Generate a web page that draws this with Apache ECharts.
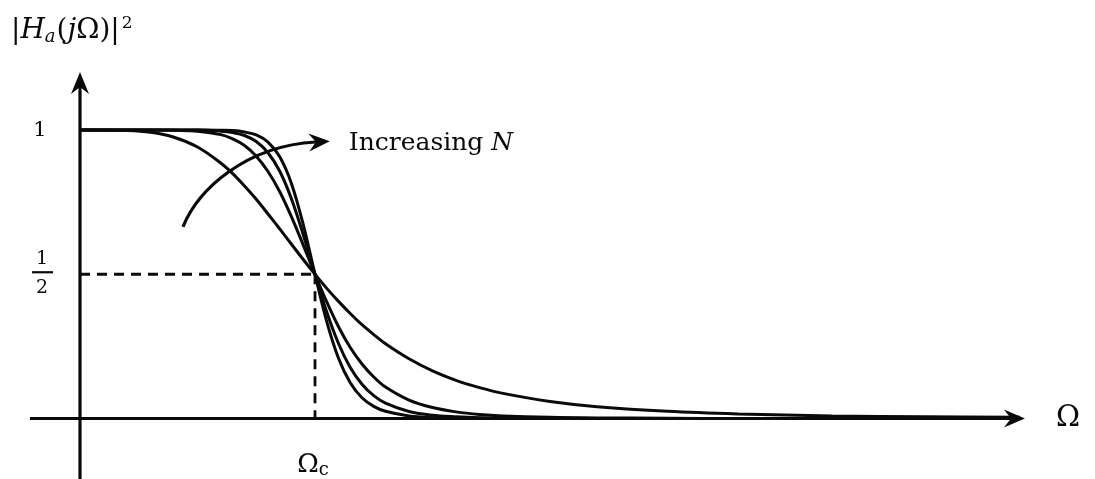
<!DOCTYPE html>
<html>
<head>
<meta charset="utf-8">
<script src="https://cdn.jsdelivr.net/npm/echarts@6/dist/echarts.min.js"></script>
<style>
  html, body { margin: 0; padding: 0; background: #fff; }
  #chart { width: 1095px; height: 479px; }
</style>
</head>
<body>
<div id="chart"></div>
<script>
// Normalised frequency Ω / Ωc at which each response is sampled
const omega = [0, 0.2, 0.3, 0.4, 0.5, 0.6, 0.65, 0.7, 0.75, 0.8, 0.85, 0.9, 0.95,
  1.0, 1.05, 1.1, 1.15, 1.2, 1.25, 1.3, 1.4, 1.5, 1.6, 1.7, 1.8, 2.0, 2.2, 2.5, 2.8, 3.2, 3.6, 4.0];

// |Ha(jΩ)|² for filters of increasing order (lowest order first)
const orderA = [1, 0.998, 0.992, 0.975, 0.941, 0.885, 0.849, 0.806, 0.760, 0.709, 0.657, 0.604, 0.551,
  0.5, 0.451, 0.406, 0.364, 0.325, 0.291, 0.259, 0.207, 0.165, 0.132, 0.107, 0.087, 0.059, 0.041, 0.025, 0.016, 0.009, 0.006, 0.004];
const orderB = [1, 1, 1, 0.999, 0.996, 0.984, 0.969, 0.946, 0.909, 0.856, 0.786, 0.699, 0.601,
  0.5, 0.404, 0.318, 0.246, 0.189, 0.144, 0.109, 0.064, 0.038, 0.023, 0.014, 0.009, 0.004, 0.002, 0.001, 0, 0, 0, 0];
const orderC = [1, 1, 1, 1, 1, 0.996, 0.991, 0.981, 0.960, 0.921, 0.857, 0.761, 0.637,
  0.5, 0.369, 0.260, 0.177, 0.119, 0.079, 0.053, 0.024, 0.011, 0.006, 0.003, 0.002, 0.001, 0, 0, 0, 0, 0, 0];
const orderD = [1, 1, 1, 1, 1, 0.999, 0.998, 0.993, 0.983, 0.958, 0.907, 0.814, 0.672,
  0.5, 0.336, 0.209, 0.124, 0.072, 0.042, 0.025, 0.009, 0.003, 0.001, 0.001, 0, 0, 0, 0, 0, 0, 0, 0];

// Tick marks and labels
const cutoff = 1;            // Ωc
const halfPower = 0.5;       // 1/2
const unitGain = 1;          // 1
const xAxisSpan = [-0.213, 4.021];
const yAxisSpan = [-0.21, 1.201];
const annotationText = 'Increasing ';
const annotationVar = 'N';
// Curved "increasing order" arrow (cubic Bézier, data units)
const sweepArrow = [[0.438, 0.664], [0.502, 0.792], [0.702, 0.945], [1.063, 0.961]];

const INK = '#0a0a0a';
const SERIF = '"DejaVu Serif", "Liberation Serif", serif';

function zip(xs, ys) { return xs.map((x, i) => [x, ys[i]]); }

function curve(values) {
  return {
    type: 'line',
    data: zip(omega, values),
    smooth: 0.35,
    symbol: 'none',
    clip: false,
    lineStyle: { color: INK, width: 3 },
    z: 3
  };
}

function renderDecor(params, api) {
  const c = (x, y) => api.coord([x, y]);
  const kids = [];

  function seg(p, q, extra) {
    kids.push({
      type: 'line',
      shape: { x1: p[0], y1: p[1], x2: q[0], y2: q[1] },
      style: Object.assign({ stroke: INK, lineWidth: 3.2, lineCap: 'butt' }, extra || {})
    });
  }
  function head(tip, angle, len, half, notch) {
    const ca = Math.cos(angle), sa = Math.sin(angle);
    const pts = [[0, 0], [-len, -half], [-len + notch, 0], [-len, half]].map(([x, y]) =>
      [tip[0] + x * ca - y * sa, tip[1] + x * sa + y * ca]);
    kids.push({ type: 'polygon', shape: { points: pts }, style: { fill: INK } });
  }
  function text(x, y, str, style) {
    kids.push({
      type: 'text', x: x, y: y,
      style: Object.assign({ text: str, fill: INK, fontFamily: SERIF, align: 'center', verticalAlign: 'middle' }, style)
    });
  }

  // Horizontal axis with arrow
  const xa = c(xAxisSpan[0], 0), xb = c(xAxisSpan[1], 0);
  seg(xa, [xb[0] - 14, xb[1]]);
  head(xb, 0, 21, 9, 7);
  // Vertical axis with arrow
  const ya = c(0, yAxisSpan[0]), yb = c(0, yAxisSpan[1]);
  seg(ya, [yb[0], yb[1] + 14]);
  head(yb, -Math.PI / 2, 22, 9, 7);

  // Dashed guides to the half-power point
  const hp = c(cutoff, halfPower);
  seg(c(0, halfPower), hp, { lineWidth: 2.8, lineDash: [10, 7] });
  seg(hp, c(cutoff, 0), { lineWidth: 2.8, lineDash: [10, 7] });

  // Curved arrow showing the direction of increasing order
  const p = sweepArrow.map(([x, y]) => c(x, y));
  const ang = Math.atan2(p[3][1] - p[2][1], p[3][0] - p[2][0]);
  const endX = p[3][0] - 14 * Math.cos(ang), endY = p[3][1] - 14 * Math.sin(ang);
  kids.push({
    type: 'bezierCurve',
    shape: { x1: p[0][0], y1: p[0][1], cpx1: p[1][0], cpy1: p[1][1], cpx2: p[2][0], cpy2: p[2][1], x2: endX, y2: endY },
    style: { stroke: INK, lineWidth: 3.2, fill: null }
  });
  head(p[3], ang, 21, 9, 7);
  text(p[3][0] + 19, p[3][1] + 2, '{r|' + annotationText + '}{i|' + annotationVar + '}', {
    align: 'left',
    rich: {
      r: { fontFamily: SERIF, fontSize: 25, fill: INK },
      i: { fontFamily: SERIF, fontSize: 25, fontStyle: 'italic', fill: INK }
    }
  });

  // Tick labels
  const one = c(0, unitGain);
  text(one[0] - 40, one[1] + 1, '1', { fontSize: 21 });
  const half = c(0, halfPower);
  text(half[0] - 38, half[1] - 15, '1', { fontSize: 19 });
  seg([half[0] - 48, half[1] - 2], [half[0] - 27, half[1] - 2], { lineWidth: 2.2 });
  text(half[0] - 38, half[1] + 14, '2', { fontSize: 19 });
  const wc = c(cutoff, 0);
  text(wc[0] - 2, wc[1] + 47, '{o|Ω}{s|c}', {
    rich: {
      o: { fontFamily: SERIF, fontSize: 26, fill: INK },
      s: { fontFamily: SERIF, fontSize: 18, fill: INK, padding: [10, 0, 0, 0] }
    }
  });

  // Axis titles
  text(xb[0] + 43, xb[1], 'Ω', { fontSize: 29 });
  text(yb[0] - 69, yb[1] - 41, '{n||}{i|H}{s|a}{n|(}{i|j}{n|Ω)|}{p|2}', {
    align: 'left',
    rich: {
      n: { fontFamily: SERIF, fontSize: 28, fill: INK },
      i: { fontFamily: SERIF, fontSize: 28, fontStyle: 'italic', fill: INK },
      s: { fontFamily: SERIF, fontSize: 18, fontStyle: 'italic', fill: INK, padding: [12, 1, 0, 0] },
      p: { fontFamily: SERIF, fontSize: 17, fill: INK, padding: [0, 0, 14, 2] }
    }
  });

  return { type: 'group', children: kids };
}

const chart = echarts.init(document.getElementById('chart'), null, { renderer: 'canvas' });
chart.setOption({
  animation: false,
  backgroundColor: '#fff',
  grid: { left: 80, top: 130, width: 940, height: 288.5, containLabel: false },
  xAxis: { type: 'value', min: 0, max: 4, show: false },
  yAxis: { type: 'value', min: 0, max: 1, show: false },
  series: [
    curve(orderA),
    curve(orderB),
    curve(orderC),
    curve(orderD),
    {
      type: 'custom',
      data: [[0, 0]],
      renderItem: renderDecor,
      clip: false,
      silent: true,
      z: 2
    }
  ]
});
</script>
</body>
</html>
